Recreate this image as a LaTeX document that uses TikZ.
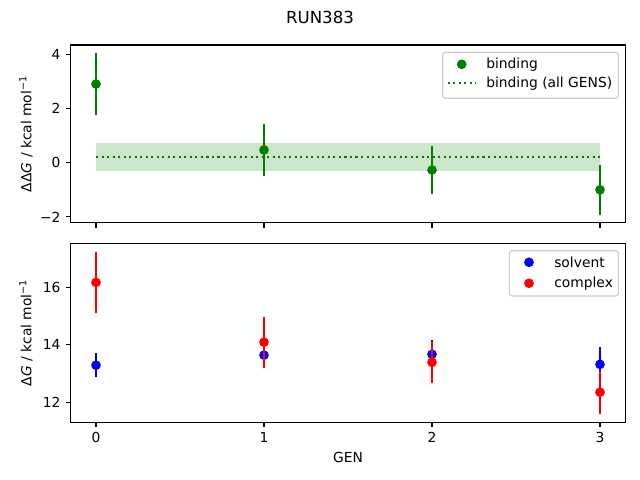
\documentclass[tikz,border=0pt]{standalone}
\usepackage{fontspec}
\setmainfont{DejaVu Sans}
\usepackage{tikz}

\definecolor{mplgreen}{HTML}{008000}
\definecolor{mplblue}{HTML}{0000FF}
\definecolor{mplred}{HTML}{FF0000}

\begin{document}
\begin{tikzpicture}[x = 0.72bp, y = -0.72bp, font = \fontsize{10}{12}\selectfont,
        axframe/.style = {line width = 0.8bp},
        tick/.style = {line width = 0.8bp},
        errbar/.style = {line width = 1.5bp},
        legendbox/.style = {draw = black!20, fill = white, fill opacity = 0.8, rounded corners = 2bp, line width = 0.8bp}]
        \useasboundingbox (0,0) rectangle (640,480);
        \node (title) at (320,17) {\fontsize{12}{14}\selectfont RUN383};
        % upper panel: binding
        \begin{scope}[shift = {(96,162.7)}, x = 120.96bp, y = 19.526bp]
            \fill[mplgreen, opacity = 0.2] (0,-0.32) rectangle (3,0.72);
            \draw[mplgreen, line width = 1.5bp, dash pattern = on 1.5bp off 2.475bp] (0,0.21) -- (3,0.21);
            \foreach \g/\v/\e in {0/2.90/1.13, 1/0.47/0.97, 2/-0.27/0.87, 3/-1.0/0.93} {
                \draw[errbar, mplgreen] (\g,\v-\e) -- (\g,\v+\e);
                \fill[mplgreen] (\g,\v) circle (3.5bp);
            }
            \foreach \t/\lab [count = \i] in {-2/−2, 0/0, 2/2, 4/4}
                \draw[tick] (-0.15,\t) -- ++(-3.5bp,0) node[anchor = east, inner sep = 0pt, xshift = -3.5bp] (ttop\i) {\lab};
            \foreach \g in {0,...,3}
                \draw[tick] (\g,-2.212) -- ++(0,-3.5bp);
            \draw[axframe] (-0.15,-2.212) rectangle (3.15,4.34);
        \end{scope}
        % lower panel: solvent and complex
        \begin{scope}[shift = {(96,747.3)}, x = 120.96bp, y = 20.7bp]
            \foreach \g/\v/\e in {0/13.29/0.41, 1/13.64/0.46, 2/13.67/0.50, 3/13.32/0.60} {
                \draw[errbar, mplblue] (\g,\v-\e) -- (\g,\v+\e);
                \fill[mplblue] (\g,\v) circle (3.5bp);
            }
            \foreach \g/\v/\e in {0/16.17/1.06, 1/14.09/0.88, 2/13.39/0.71, 3/12.35/0.75} {
                \draw[errbar, mplred] (\g,\v-\e) -- (\g,\v+\e);
                \fill[mplred] (\g,\v) circle (3.5bp);
            }
            \foreach \t [count = \i] in {12, 14, 16}
                \draw[tick] (-0.15,\t) -- ++(-3.5bp,0) node[anchor = east, inner sep = 0pt, xshift = -3.5bp] (tbot\i) {\t};
            \foreach \g in {0,...,3}
                \draw[tick] (\g,11.304) -- ++(0,-3.5bp) node[anchor = north, inner sep = 0pt, yshift = -3.5bp] (gen\g) {\g};
            \draw[axframe] (-0.15,11.304) rectangle (3.15,17.53);
        \end{scope}
        % axis labels
        \node[rotate = 90] (ylabtop) at (26,133.9) {ΔΔ\textit{G} / kcal mol\textsuperscript{−1}};
        \node[rotate = 90] (ylabbot) at (26,332.8) {Δ\textit{G} / kcal mol\textsuperscript{−1}};
        \node (genlab) at (348,457.5) {GEN};
        % legends
        \draw[legendbox] (442.7,52.3) rectangle (618.3,98.3);
        \fill[mplgreen] (461.7,64.3) circle (3.5bp);
        \draw[mplgreen, line width = 1.5bp, dash pattern = on 1.5bp off 2.475bp] (447.7,83.3) -- (475.5,83.3);
        \node[anchor = west, inner sep = 0pt] (legbind) at (486,64.3) {binding};
        \node[anchor = west, inner sep = 0pt] (legall) at (486,83.3) {binding (all GENS)};
        \draw[legendbox] (509.3,250.7) rectangle (618.3,296);
        \fill[mplblue] (529,262.3) circle (3.5bp);
        \fill[mplred] (529,283.3) circle (3.5bp);
        \node[anchor = west, inner sep = 0pt] (legsolv) at (554,262.3) {solvent};
        \node[anchor = west, inner sep = 0pt] (legcomp) at (554,283.3) {complex};
    \end{tikzpicture}
\end{document}
